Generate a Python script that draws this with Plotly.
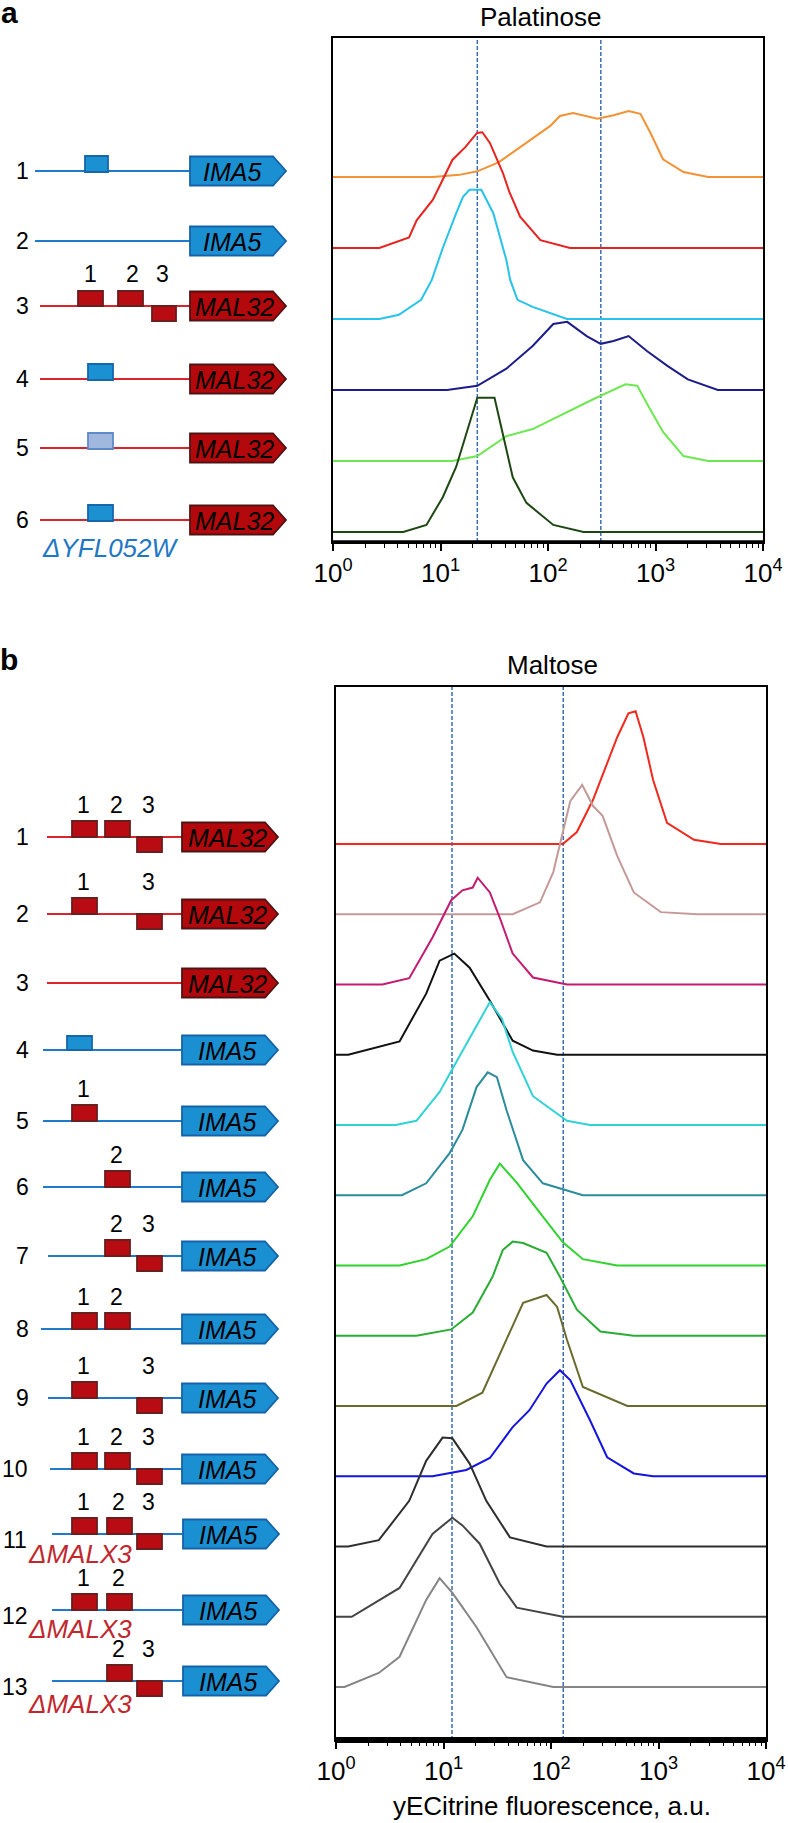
import plotly.graph_objects as go

W, H = 788, 1823
FONT = "Liberation Sans, Arial, sans-serif"

def X(px):
    return px / W

def Y(py):
    return 1 - py / H

# ---------------- DATA: panel a (Palatinose) ----------------
pal1_x = [1, 8.5, 15, 22, 35, 72, 105, 129, 171, 288, 407, 562, 724, 891, 1175, 1820, 3090, 10000]
pal1_h = [0, 0, 0.03, 0.08, 0.21, 0.54, 0.72, 0.86, 0.90, 0.82, 0.87, 0.93, 0.89, 0.63, 0.25, 0.07, 0, 0]
pal2_x = [1, 2.7, 5.1, 6, 8.5, 10.5, 12.9, 17, 21.9, 24.5, 28.8, 38, 43.7, 55, 85, 160, 10000]
pal2_h = [0, 0, 0.15, 0.39, 0.68, 0.96, 1.24, 1.42, 1.62, 1.63, 1.48, 1.06, 0.79, 0.44, 0.11, 0, 0]
pal3_x = [1, 2.7, 4.1, 6.6, 8.3, 10.5, 14, 16.2, 18.6, 24, 31, 41, 44.5, 52, 72, 150, 10000]
pal3_h = [0, 0, 0.06, 0.27, 0.55, 1.0, 1.49, 1.72, 1.82, 1.82, 1.49, 0.83, 0.55, 0.27, 0.17, 0, 0]
pal4_x = [1, 11.5, 22, 41, 72, 112, 151, 229, 309, 407, 562, 832, 1290, 2000, 3800, 10000]
pal4_h = [0, 0, 0.06, 0.30, 0.62, 0.93, 0.96, 0.76, 0.65, 0.69, 0.76, 0.55, 0.34, 0.15, 0, 0]
pal5_x = [1, 12.9, 22, 41, 72, 151, 263, 525, 676, 891, 1175, 1820, 3090, 10000]
pal5_h = [0, 0, 0.07, 0.35, 0.45, 0.69, 0.87, 1.08, 1.06, 0.73, 0.41, 0.07, 0, 0]
pal6_x = [1, 4.5, 7.4, 10.5, 14, 18.6, 22, 31.8, 38, 47, 63, 112, 214, 10000]
pal6_h = [0, 0, 0.10, 0.49, 0.92, 1.54, 1.89, 1.89, 1.39, 0.77, 0.41, 0.10, 0, 0]
pal_colors = ["#f39234", "#e8231f", "#27c3ec", "#1c1c8a", "#6ee852", "#1e4713"]
pal_dashes = [22, 310]

# ---------------- DATA: panel b (Maltose) ----------------
mal1_x = [1, 129, 174, 246, 413, 525, 612, 724, 891, 1200, 2140, 3800, 10000]
mal1_h = [0, 0, 0.17, 0.63, 1.52, 1.86, 1.89, 1.52, 0.91, 0.30, 0.06, 0, 0]
mal2_x = [1, 44, 79, 105, 129, 151, 195, 246, 302, 413, 589, 1050, 2300, 10000]
mal2_h = [0, 0, 0.17, 0.60, 1.17, 1.61, 1.84, 1.54, 1.40, 0.83, 0.31, 0.03, 0, 0]
mal3_x = [1, 2.7, 4.8, 7.9, 11.8, 15, 18.7, 20.8, 27, 33.4, 44, 68, 141, 10000]
mal3_h = [0, 0, 0.09, 0.67, 1.20, 1.34, 1.38, 1.52, 1.31, 0.95, 0.44, 0.10, 0, 0]
mal4_x = [1, 1.3, 3.9, 6.9, 9.2, 12.6, 17.5, 27, 44, 68, 114, 10000]
mal4_h = [0, 0, 0.19, 0.87, 1.34, 1.44, 1.24, 0.77, 0.20, 0.06, 0, 0]
mal5_x = [1, 3.6, 5.6, 9.2, 13.2, 18.7, 27, 35, 44, 68, 141, 230, 10000]
mal5_h = [0, 0, 0.06, 0.47, 0.90, 1.32, 1.75, 1.51, 1.04, 0.41, 0.06, 0, 0]
mal6_x = [1, 4.1, 6.9, 11.4, 15, 20.3, 25.8, 31.4, 38.6, 55, 84, 198, 10000]
mal6_h = [0, 0, 0.17, 0.60, 0.93, 1.54, 1.75, 1.68, 1.21, 0.50, 0.17, 0, 0]
mal7_x = [1, 3.9, 6.9, 11.4, 18.7, 27, 33.4, 48, 79, 129, 198, 413, 10000]
mal7_h = [0, 0, 0.09, 0.27, 0.70, 1.22, 1.45, 1.18, 0.75, 0.33, 0.09, 0, 0]
mal8_x = [1, 5.6, 11.8, 18.7, 28.6, 35.6, 44, 55, 91, 121, 174, 288, 589, 10000]
mal8_h = [0, 0, 0.09, 0.33, 0.84, 1.22, 1.34, 1.32, 1.18, 0.84, 0.37, 0.06, 0, 0]
mal9_x = [1, 13.2, 23, 38.6, 55, 91, 114, 141, 198, 513, 10000]
mal9_h = [0, 0, 0.19, 0.94, 1.47, 1.58, 1.41, 0.94, 0.27, 0, 0]
mal10_x = [1, 7.9, 16.3, 27, 44, 63, 91, 121, 151, 230, 333, 589, 891, 10000]
mal10_h = [0, 0, 0.09, 0.26, 0.70, 0.94, 1.32, 1.51, 1.37, 0.80, 0.27, 0.04, 0, 0]
mal11_x = [1, 1.3, 2.5, 4.8, 6.9, 9.8, 12.1, 17.5, 25, 41.5, 91, 10000]
mal11_h = [0, 0, 0.09, 0.65, 1.22, 1.55, 1.54, 1.18, 0.65, 0.13, 0, 0]
mal12_x = [1, 1.4, 3.9, 7.9, 12.1, 15, 21.7, 33.4, 48, 129, 10000]
mal12_h = [0, 0, 0.41, 1.18, 1.41, 1.30, 1.04, 0.47, 0.13, 0, 0]
mal13_x = [1, 1.2, 2.5, 3.9, 6.9, 9.2, 12.1, 20.3, 38.6, 105, 10000]
mal13_h = [0, 0, 0.20, 0.43, 1.24, 1.55, 1.34, 0.85, 0.14, 0, 0]
mal_colors = ["#f0291c", "#c39a98", "#c41a70", "#111111", "#2fd3d6", "#2b8d9b",
              "#2ed42c", "#2aad34", "#6a6a2c", "#1414e0", "#2e2e2e", "#444444", "#858585"]
mal_dashes = [12, 130]

tick_vals = [1, 10, 100, 1000, 10000]
tick_text = ["10<sup>0</sup>", "10<sup>1</sup>", "10<sup>2</sup>", "10<sup>3</sup>", "10<sup>4</sup>"]

# schematic content
pal_genes = ["IMA5", "IMA5", "MAL32", "MAL32", "MAL32", "MAL32"]
pal_prom = ["blue", "blue", "red", "red", "red", "red"]
pal_sites = [["Y"], [], ["1", "2", "3"], ["Y"], ["Ylight"], ["Y"]]
mal_genes = ["MAL32", "MAL32", "MAL32"] + ["IMA5"] * 10
mal_prom = ["red", "red", "red"] + ["blue"] * 10
mal_sites = [["1", "2", "3"], ["1", "3"], [], ["Y"], ["1"], ["2"], ["2", "3"], ["1", "2"],
             ["1", "3"], ["1", "2", "3"], ["1", "2", "3"], ["1", "2"], ["2", "3"]]
mal_deleted = [False] * 10 + [True] * 3

pal_list_x = [pal1_x, pal2_x, pal3_x, pal4_x, pal5_x, pal6_x]
pal_list_h = [pal1_h, pal2_h, pal3_h, pal4_h, pal5_h, pal6_h]
mal_list_x = [mal1_x, mal2_x, mal3_x, mal4_x, mal5_x, mal6_x, mal7_x, mal8_x, mal9_x,
              mal10_x, mal11_x, mal12_x, mal13_x]
mal_list_h = [mal1_h, mal2_h, mal3_h, mal4_h, mal5_h, mal6_h, mal7_h, mal8_h, mal9_h,
              mal10_h, mal11_h, mal12_h, mal13_h]

fig = go.Figure()

n_a = len(pal_list_x)
for k in range(n_a):
    off = n_a - 1 - k
    fig.add_trace(go.Scatter(x=pal_list_x[k], y=[v + off for v in pal_list_h[k]], mode="lines",
                             line=dict(color=pal_colors[k], width=2), xaxis="x", yaxis="y",
                             showlegend=False, hoverinfo="skip"))
n_b = len(mal_list_x)
for k in range(n_b):
    off = n_b - 1 - k
    fig.add_trace(go.Scatter(x=mal_list_x[k], y=[v + off for v in mal_list_h[k]], mode="lines",
                             line=dict(color=mal_colors[k], width=2), xaxis="x2", yaxis="y2",
                             showlegend=False, hoverinfo="skip"))

shapes = []
annotations = []

# dashed reference lines
for xv in pal_dashes:
    shapes.append(dict(type="line", xref="x", yref="y domain", x0=xv, x1=xv, y0=0, y1=1,
                       line=dict(color="#3a6db2", width=1.5, dash="4px,2px"), layer="below"))
for xv in mal_dashes:
    shapes.append(dict(type="line", xref="x2", yref="y2 domain", x0=xv, x1=xv, y0=0, y1=1,
                       line=dict(color="#3a6db2", width=1.5, dash="4px,2px"), layer="below"))
# thick bottom axes
shapes.append(dict(type="line", xref="x domain", yref="y domain", x0=0, x1=1, y0=0, y1=0,
                   line=dict(color="black", width=3.5)))
shapes.append(dict(type="line", xref="x2 domain", yref="y2 domain", x0=0, x1=1, y0=0, y1=0,
                   line=dict(color="black", width=6)))

RED_LINE = "#d8262c"
BLUE_LINE = "#1f7ac9"
RED_BOX = ("#b80b12", "#6a1e1e")
BLUE_BOX = ("#1b91d2", "#1666ad")
LIGHT_BOX = ("#a0b8de", "#5f8ac8")
RED_ARROW = ("#b3090d", "#4e1414")
BLUE_ARROW = ("#1a90d2", "#1463aa")


def rect(x0, x1, y0, y1, colors):
    shapes.append(dict(type="rect", xref="paper", yref="paper", x0=X(x0), x1=X(x1),
                       y0=Y(y1), y1=Y(y0), fillcolor=colors[0],
                       line=dict(color=colors[1], width=1.8), layer="above"))


def arrow(x0, xp, xt, yc, hh, colors):
    p = (f"M {X(x0)},{Y(yc - hh)} L {X(xp)},{Y(yc - hh)} L {X(xt)},{Y(yc)} "
         f"L {X(xp)},{Y(yc + hh)} L {X(x0)},{Y(yc + hh)} Z")
    shapes.append(dict(type="path", xref="paper", yref="paper", path=p, fillcolor=colors[0],
                       line=dict(color=colors[1], width=1.8), layer="above"))


def hline(x0, x1, y, color):
    shapes.append(dict(type="line", xref="paper", yref="paper", x0=X(x0), x1=X(x1),
                       y0=Y(y), y1=Y(y), line=dict(color=color, width=2), layer="above"))


def text(x, y, s, size, color="black", italic=False, bold=False, xanchor="center"):
    if italic:
        s = "<i>" + s + "</i>"
    if bold:
        s = "<b>" + s + "</b>"
    annotations.append(dict(xref="paper", yref="paper", x=X(x), y=Y(y), text=s,
                            showarrow=False, xanchor=xanchor, yanchor="middle",
                            font=dict(family=FONT, size=size, color=color)))


# ---- panel a schematic ----
rows_a = [171, 241, 306, 379, 448, 520]
start_a = [35, 35, 40, 40, 40, 40]
slot_a = {"1": (78, 103, "top"), "2": (118, 143, "top"), "3": (152, 176, "bot")}
for i, yc in enumerate(rows_a):
    lc = RED_LINE if pal_prom[i] == "red" else BLUE_LINE
    hline(start_a[i], 191, yc, lc)
    for s in pal_sites[i]:
        if s in ("Y", "Ylight"):
            x0, x1 = (85, 108) if i == 0 else (88, 113)
            rect(x0, x1, yc - 15, yc + 1, BLUE_BOX if s == "Y" else LIGHT_BOX)
        else:
            x0, x1, pos = slot_a[s]
            if pos == "top":
                rect(x0, x1, yc - 15, yc, RED_BOX)
            else:
                rect(x0, x1, yc, yc + 15, RED_BOX)
            text({"1": 90, "2": 132, "3": 162}[s], yc - 32, s, 23)
    gene = pal_genes[i]
    arrow(190, 273, 286, yc, 14.5, RED_ARROW if gene == "MAL32" else BLUE_ARROW)
    text(234 if gene == "MAL32" else 232, yc + 1, gene, 25, italic=True)
    text(22, yc, str(i + 1), 23)
text(110, 548, "\u0394YFL052W", 26, color="#1f78c4", italic=True)

# ---- panel b schematic ----
rows_b = [837, 914, 983, 1050, 1121, 1187, 1256, 1329, 1398, 1469, 1534, 1610, 1681]
start_b = [47, 47, 47, 43, 43, 43, 48, 41, 48, 50, 52, 52, 52]
for i, yc in enumerate(rows_b):
    lc = RED_LINE if mal_prom[i] == "red" else BLUE_LINE
    shift = 1 if mal_deleted[i] else 0
    hline(start_b[i], 184, yc, lc)
    slots = {"1": (72, 97, "top"), "2": (105 + 2 * shift, 130 + 2 * shift, "top"),
             "3": (137, 162, "bot")}
    for s in mal_sites[i]:
        if s == "Y":
            rect(67, 92, yc - 14, yc, BLUE_BOX)
        else:
            x0, x1, pos = slots[s]
            if pos == "top":
                rect(x0, x1, yc - 16, yc, RED_BOX)
            else:
                rect(x0, x1, yc, yc + 15, RED_BOX)
            text((x0 + x1) / 2 - 1, yc - 32, s, 23)
    gene = mal_genes[i]
    ax0 = 182 + shift
    arrow(ax0, ax0 + 83, ax0 + 96, yc, 14.5, RED_ARROW if gene == "MAL32" else BLUE_ARROW)
    text(ax0 + 45, yc + 1, gene, 25, italic=True)
    num_x = 22 if i < 9 else 15
    text(num_x, yc + (6 if mal_deleted[i] else 0), str(i + 1), 23)
    if mal_deleted[i]:
        text(80, yc + 20 if i == 10 else yc + 19 if i == 11 else yc + 23, "\u0394MALX3", 26,
             color="#c1272d", italic=True)

# titles and labels
text(540, 17, "Palatinose", 26)
text(552, 665, "Maltose", 26)
text(552, 1806, "yECitrine fluorescence, a.u.", 26)
text(9, 12, "a", 30, bold=True)
text(9, 659, "b", 30, bold=True)

xcommon = dict(type="log", range=[0, 4], tickvals=tick_vals, ticktext=tick_text,
               ticks="outside", ticklen=7, tickwidth=1.5, tickcolor="black",
               minor=dict(ticks="outside", ticklen=4, tickwidth=1, tickcolor="black", dtick="D1"),
               showline=True, linewidth=2, linecolor="black", mirror=True,
               showgrid=False, zeroline=False, automargin=False,
               tickfont=dict(family=FONT, size=26, color="black"), fixedrange=True)
ycommon = dict(showline=True, linewidth=2, linecolor="black", mirror=True, automargin=False,
               showgrid=False, zeroline=False, showticklabels=False, ticks="", fixedrange=True)

fig.update_layout(
    width=W, height=H, autosize=False,
    margin=dict(l=0, r=0, t=0, b=0, pad=0, autoexpand=False),
    paper_bgcolor="white", plot_bgcolor="white",
    showlegend=False,
    xaxis=dict(xcommon, domain=[X(333), X(763)], anchor="y"),
    yaxis=dict(ycommon, domain=[Y(542), Y(38)], range=[-10 / 71, (532 - 38) / 71], anchor="x"),
    xaxis2=dict(xcommon, domain=[X(336), X(766)], anchor="y2"),
    yaxis2=dict(ycommon, domain=[Y(1740), Y(687)], range=[-53 / 70.25, (1687 - 687) / 70.25],
                anchor="x2"),
    shapes=shapes,
    annotations=annotations,
    font=dict(family=FONT),
)

fig.write_html("out.html", config={"displayModeBar": False},
               post_script="document.body.style.margin='0';document.body.style.overflow='hidden';")
